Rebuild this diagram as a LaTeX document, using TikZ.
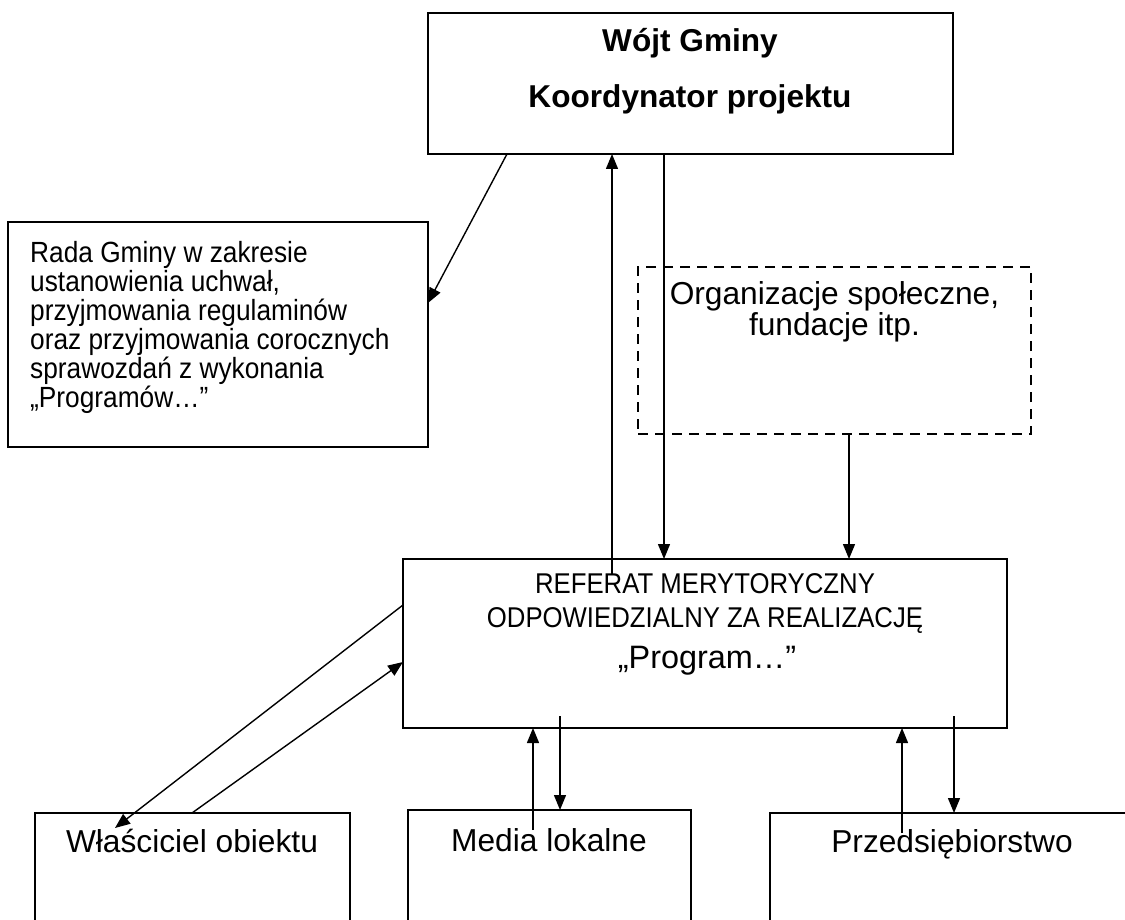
\documentclass[tikz,border=0pt]{standalone}
\usepackage{fontspec}
\setmainfont{Liberation Sans}
\newfontfamily\narrowsans[FakeStretch=0.9]{Liberation Sans}
\usetikzlibrary{arrows.meta}
\begin{document}
\begin{tikzpicture}[x=1pt,y=-1pt,
  box/.style={draw, line width=1.8pt, rectangle, inner sep=0pt, outer sep=0pt, anchor=north west},
  dbox/.style={box, dash pattern=on 10pt off 7pt},
  arr/.style={line width=1.4pt, -{Triangle[length=15pt,width=12pt]}},
  big/.style={font=\fontsize{31.7}{34}\selectfont, inner sep=0pt, anchor=base},
  bigb/.style={font=\fontsize{31.6}{34}\bfseries\selectfont, inner sep=0pt, anchor=base},
  small/.style={font=\narrowsans\fontsize{29.2}{30}\selectfont, inner sep=0pt, anchor=base},
  smallw/.style={small, anchor=base west}]
\useasboundingbox (0,0) rectangle (1125,920);
\clip (0,0) rectangle (1125,920);
\fill[white] (0,0) rectangle (1125,920);

% boxes
\node[box, minimum width=525pt, minimum height=141pt] (wojt) at (428,13) {};
\node[box, minimum width=420pt, minimum height=225pt] (rada) at (8,222) {};
\node[dbox, minimum width=393pt, minimum height=167pt] (org) at (638,267) {};
\node[box, minimum width=604pt, minimum height=169pt] (ref) at (403,559) {};
\node[box, minimum width=315pt, minimum height=140pt] (wla) at (35,813) {};
\node[box, minimum width=283pt, minimum height=140pt] (med) at (408,810) {};
\node[box, minimum width=370pt, minimum height=140pt] (prz) at (770,813) {};

% texts
\node[bigb] (w1) at (690,52) {Wójt Gminy};
\node[bigb] (w2) at (690,108) {Koordynator projektu};

\node[smallw] (r1) at (30,262) {Rada Gminy w zakresie};
\node[smallw] (r2) at (30,291) {ustanowienia uchwał,};
\node[smallw] (r3) at (30,320) {przyjmowania regulaminów};
\node[smallw] (r4) at (30,349) {oraz przyjmowania corocznych};
\node[smallw] (r5) at (30,378) {sprawozdań z wykonania};
\node[smallw] (r6) at (30,407) {„Programów…”};

\node[big] (o1) at (834.5,305) {Organizacje społeczne,};
\node[big] (o2) at (834.5,335) {fundacje itp.};

\node[small, font=\narrowsans\fontsize{28.6}{30}\selectfont] (f1) at (705,593) {REFERAT MERYTORYCZNY};
\node[small, font=\narrowsans\fontsize{28.6}{30}\selectfont] (f2) at (705,627) {ODPOWIEDZIALNY ZA REALIZACJĘ};
\node[font=\fontsize{32.4}{34}\selectfont, inner sep=0pt, anchor=base] (f3) at (707,668) {„Program…”};

\node[big] (l1) at (192,852) {Właściciel obiektu};
\node[big] (l2) at (549,851) {Media lokalne};
\node[big] (l3) at (952,852) {Przedsiębiorstwo};

% helper coordinates
\coordinate (a1) at (507,0);
\coordinate (a2) at (0,303);
\coordinate (a3) at (612,575);
\coordinate (a4) at (664,0);
\coordinate (a5) at (849,0);
\coordinate (a6) at (0,605);
\coordinate (a7) at (115,828);
\coordinate (a8) at (192,0);
\coordinate (a9) at (0,662);
\coordinate (b1) at (533,830);
\coordinate (b2) at (560,716);
\coordinate (b3) at (902,833);
\coordinate (b4) at (954,716);

% connectors
\draw[arr] (wojt.south -| a1) -- (rada.east |- a2);
\draw[arr] (a3) -- (wojt.south -| a3);
\draw[arr] (wojt.south -| a4) -- (ref.north -| a4);
\draw[arr] (org.south -| a5) -- (ref.north -| a5);
\draw[arr] (ref.west |- a6) -- (a7);
\draw[arr] (wla.north -| a8) -- (ref.west |- a9);
\draw[arr] (b1) -- (ref.south -| b1);
\draw[arr] (b2) -- (med.north -| b2);
\draw[arr] (b3) -- (ref.south -| b3);
\draw[arr] (b4) -- (prz.north -| b4);
\end{tikzpicture}
\end{document}
